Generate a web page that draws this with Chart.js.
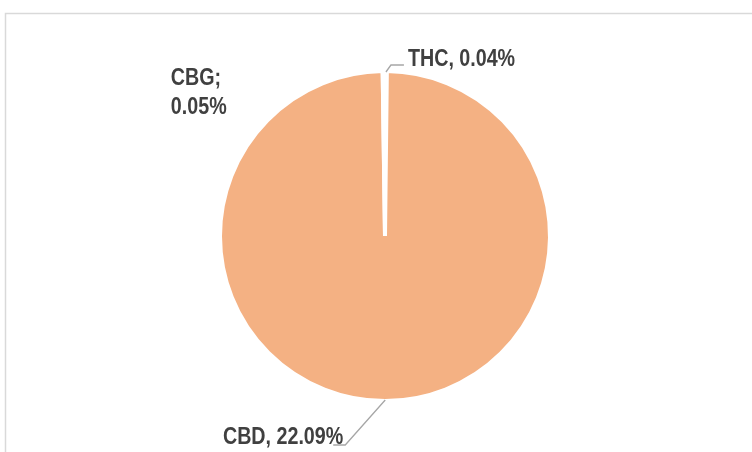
<!DOCTYPE html>
<html>
<head>
<meta charset="utf-8">
<script src="https://cdn.jsdelivr.net/npm/chart.js@4"></script>
<style>
  html, body { margin: 0; padding: 0; background: #fff; }
  #wrap { width: 752px; height: 452px; }
</style>
</head>
<body>
<div id="wrap"><canvas id="myChart" width="752" height="452"></canvas></div>
<script>
// data
const categories = ['THC', 'CBD', 'CBG'];
const values = [0.04, 22.09, 0.05];
const separators = [', ', ', ', ';\n'];
const sliceColors = ['#ffffff', '#F4B183', '#ffffff'];

const labelFont = "bold 24px 'Liberation Sans', Arial, sans-serif";
const narrow = 0.82; // squeeze Arial-like glyphs to look like Arial Narrow
const textColor = '#404040';
const leaderColor = '#a6a6a6';

function fmt(v) {
  return v.toFixed(2) + '%';
}

function narrowText(ctx, text, x, y, align) {
  const w = ctx.measureText(text).width * narrow;
  let left = x;
  if (align === 'right') left = x - w;
  ctx.save();
  ctx.translate(left, y);
  ctx.scale(narrow, 1);
  ctx.textAlign = 'left';
  ctx.fillText(text, 0, 0);
  ctx.restore();
}

// outline of the chart box
const framePlugin = {
  id: 'frame',
  beforeDraw(chart) {
    const ctx = chart.ctx;
    ctx.save();
    ctx.strokeStyle = '#d9d9d9';
    ctx.lineWidth = 1.5;
    ctx.beginPath();
    ctx.moveTo(5.5, chart.height);
    ctx.lineTo(5.5, 13.5);
    ctx.lineTo(chart.width, 13.5);
    ctx.stroke();
    ctx.restore();
  }
};

// data labels with leader lines, placed from each arc's own geometry
const labelPlugin = {
  id: 'sliceLabels',
  afterDraw(chart) {
    const ctx = chart.ctx;
    const meta = chart.getDatasetMeta(0);
    ctx.save();
    ctx.font = labelFont;
    ctx.fillStyle = textColor;
    ctx.strokeStyle = leaderColor;
    ctx.lineWidth = 1.3;
    ctx.textBaseline = 'alphabetic';

    meta.data.forEach((arc, i) => {
      const p = arc.getProps(['x', 'y', 'startAngle', 'endAngle', 'outerRadius'], true);
      const mid = (p.startAngle + p.endAngle) / 2;
      const ax = p.x + Math.cos(mid) * (p.outerRadius - 1);
      const ay = p.y + Math.sin(mid) * (p.outerRadius - 1);
      const lines = (categories[i] + separators[i] + fmt(values[i])).split('\n');

      if (categories[i] === 'THC') {
        const ex = ax + 5, ey = ay - 7;
        ctx.beginPath();
        ctx.moveTo(ax, ay);
        ctx.lineTo(ex, ey);
        ctx.lineTo(ex + 13, ey);
        ctx.stroke();
        narrowText(ctx, lines[0], ex + 17, ey + 1, 'left');
      } else if (categories[i] === 'CBD') {
        const ex = ax - 40, ey = ay + 45;
        ctx.beginPath();
        ctx.moveTo(ax, ay);
        ctx.lineTo(ex, ey);
        ctx.lineTo(ex - 12, ey);
        ctx.stroke();
        narrowText(ctx, lines[0], ex - 2, ey - 1, 'right');
      } else {
        lines.forEach((t, k) => {
          narrowText(ctx, t, ax - 213, ay + 13 + k * 28.5, 'left');
        });
      }
    });
    ctx.restore();
  }
};

const ctx = document.getElementById('myChart').getContext('2d');
const myChart = new Chart(ctx, {
  type: 'pie',
  data: {
    labels: categories,
    datasets: [{
      data: values,
      backgroundColor: sliceColors,
      borderColor: '#ffffff',
      borderWidth: 4
    }]
  },
  options: {
    responsive: false,
    animation: false,
    devicePixelRatio: 1,
    layout: { padding: { left: 218, right: 200, top: 69, bottom: 49 } },
    plugins: {
      legend: { display: false },
      tooltip: { enabled: false }
    }
  },
  plugins: [framePlugin, labelPlugin]
});
</script>
</body>
</html>
